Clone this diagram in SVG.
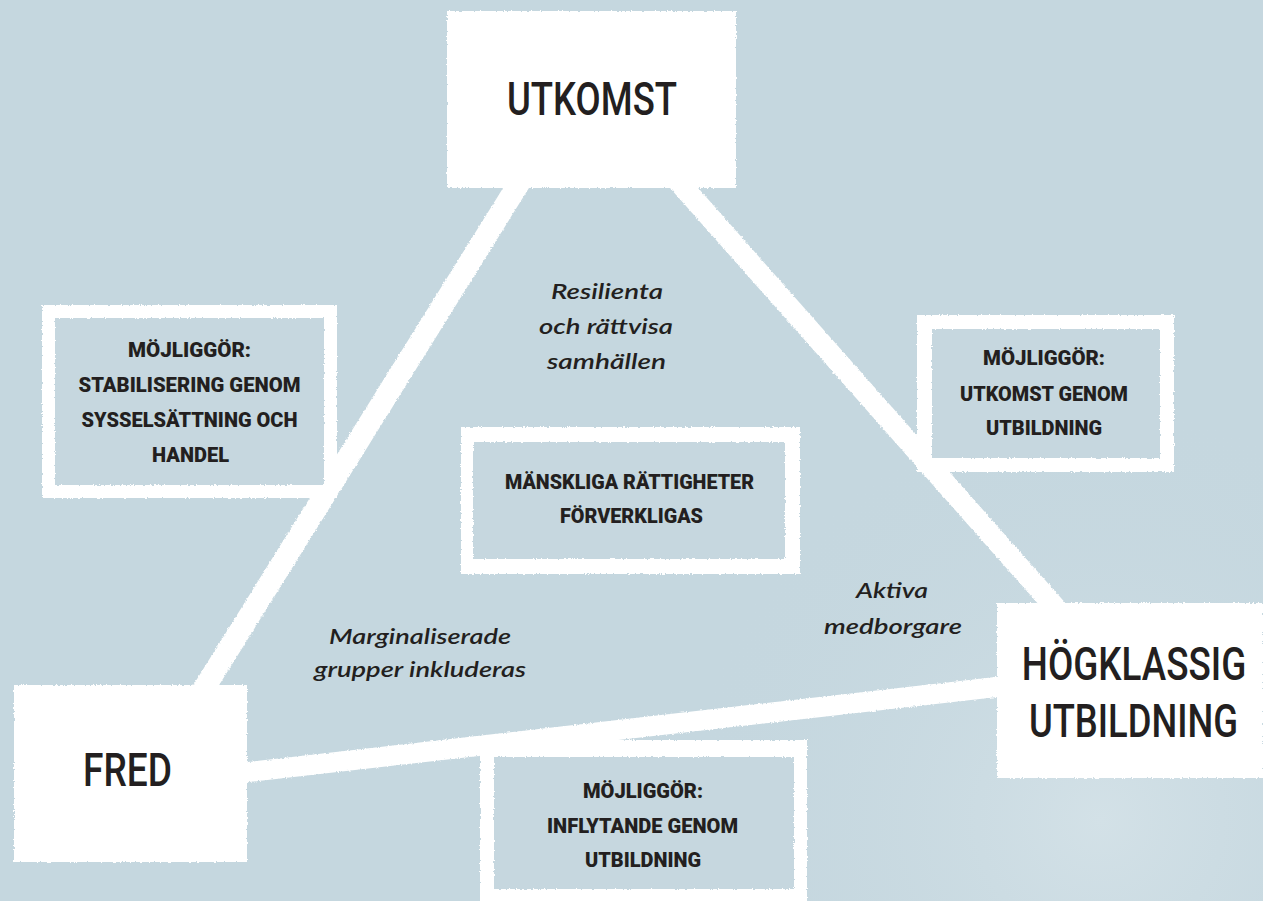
<svg xmlns="http://www.w3.org/2000/svg" width="1263" height="901" viewBox="0 0 1263 901">
  <defs>
    <radialGradient id="bgGlow" cx="1100" cy="820" r="420" gradientUnits="userSpaceOnUse">
      <stop offset="0" stop-color="#d3e1e7"/>
      <stop offset="1" stop-color="#c5d7df" stop-opacity="0"/>
    </radialGradient>
    <filter id="rough" x="-5%" y="-5%" width="110%" height="110%">
      <feTurbulence type="fractalNoise" baseFrequency="0.55" numOctaves="2" seed="3" result="n"/>
      <feDisplacementMap in="SourceGraphic" in2="n" scale="3" xChannelSelector="R" yChannelSelector="G"/>
    </filter>
    <style>
      .bg { fill: #c5d7df; }
      .white { fill: #ffffff; }
      .inner { fill: #c6d7df; }
      .conn { stroke: #ffffff; stroke-linecap: butt; fill: none; }
      .big { font-family: Roboto, "Liberation Sans", sans-serif; font-weight: 500; font-size: 46px; fill: #231f20; text-anchor: middle; }
      .lab { font-family: Roboto, "Liberation Sans", sans-serif; font-weight: 900; font-size: 21px; fill: #231f20; text-anchor: middle; }
      .it { font-family: Lato, "Open Sans", sans-serif; font-style: italic; font-weight: 600; font-size: 21px; fill: #231f20; text-anchor: middle; }
    </style>
  </defs>

  <rect class="bg" x="0" y="0" width="1263" height="901"/>
  <rect x="0" y="0" width="1263" height="901" fill="url(#bgGlow)"/>

  <g id="connectors" filter="url(#rough)">
    <line class="conn" x1="521" y1="180" x2="200" y2="695" stroke-width="22"/>
    <line class="conn" x1="677" y1="180" x2="1062" y2="615" stroke-width="21"/>
    <line class="conn" x1="240" y1="773" x2="1005" y2="686" stroke-width="20"/>
  </g>

  <g id="node-utkomst">
    <rect class="white" x="447" y="11" width="289" height="177" filter="url(#rough)"/>
    <text class="big" x="592" y="115" textLength="170" lengthAdjust="spacingAndGlyphs">UTKOMST</text>
  </g>

  <g id="node-fred">
    <rect class="white" x="14" y="685" width="233" height="177" filter="url(#rough)"/>
    <text class="big" x="127.5" y="786" textLength="89" lengthAdjust="spacingAndGlyphs">FRED</text>
  </g>

  <g id="node-hogklassig">
    <rect class="white" x="997" y="603" width="266" height="175" filter="url(#rough)"/>
    <text class="big" transform="translate(1134 680) scale(0.85 1)" x="0" y="0" textLength="264" lengthAdjust="spacingAndGlyphs">HÖGKLASSIG</text>
    <text class="big" transform="translate(1133.5 737) scale(0.85 1)" x="0" y="0" textLength="246" lengthAdjust="spacingAndGlyphs">UTBILDNING</text>
  </g>

  <g id="node-stabilisering">
    <g filter="url(#rough)">
      <rect class="white" x="42" y="305" width="295" height="193"/>
      <rect class="inner" x="55" y="318" width="269" height="167"/>
    </g>
    <text class="lab" x="189.5" y="357" textLength="123" lengthAdjust="spacingAndGlyphs">MÖJLIGGÖR:</text>
    <text class="lab" x="189.5" y="392" textLength="222" lengthAdjust="spacingAndGlyphs">STABILISERING GENOM</text>
    <text class="lab" x="189.5" y="427" textLength="216" lengthAdjust="spacingAndGlyphs">SYSSELSÄTTNING OCH</text>
    <text class="lab" x="190.5" y="462" textLength="77" lengthAdjust="spacingAndGlyphs">HANDEL</text>
  </g>

  <g id="node-rattigheter">
    <g filter="url(#rough)">
      <rect class="white" x="461" y="427" width="339" height="147"/>
      <rect class="inner" x="473" y="442" width="312" height="117"/>
    </g>
    <text class="lab" x="629.5" y="489" textLength="249" lengthAdjust="spacingAndGlyphs">MÄNSKLIGA RÄTTIGHETER</text>
    <text class="lab" x="631.5" y="523" textLength="143" lengthAdjust="spacingAndGlyphs">FÖRVERKLIGAS</text>
  </g>

  <g id="node-utkomst-genom">
    <g filter="url(#rough)">
      <rect class="white" x="917" y="315" width="257" height="157"/>
      <rect class="inner" x="932" y="329" width="228" height="129"/>
    </g>
    <text class="lab" x="1044" y="365" textLength="122" lengthAdjust="spacingAndGlyphs">MÖJLIGGÖR:</text>
    <text class="lab" x="1044" y="401" textLength="168" lengthAdjust="spacingAndGlyphs">UTKOMST GENOM</text>
    <text class="lab" x="1044" y="435" textLength="116" lengthAdjust="spacingAndGlyphs">UTBILDNING</text>
  </g>

  <g id="node-inflytande">
    <g filter="url(#rough)">
      <rect class="white" x="480" y="740" width="327" height="165"/>
      <rect class="inner" x="494" y="757" width="300" height="132"/>
    </g>
    <text class="lab" x="643" y="798" textLength="120" lengthAdjust="spacingAndGlyphs">MÖJLIGGÖR:</text>
    <text class="lab" x="642.5" y="833" textLength="191" lengthAdjust="spacingAndGlyphs">INFLYTANDE GENOM</text>
    <text class="lab" x="643" y="867" textLength="116" lengthAdjust="spacingAndGlyphs">UTBILDNING</text>
  </g>

  <g id="label-resilienta">
    <text class="it" x="607" y="299" textLength="112" lengthAdjust="spacingAndGlyphs">Resilienta</text>
    <text class="it" x="606" y="334" textLength="134" lengthAdjust="spacingAndGlyphs">och rättvisa</text>
    <text class="it" x="606.5" y="369" textLength="119" lengthAdjust="spacingAndGlyphs">samhällen</text>
  </g>

  <g id="label-marginaliserade">
    <text class="it" x="420" y="644" textLength="182" lengthAdjust="spacingAndGlyphs">Marginaliserade</text>
    <text class="it" x="420" y="677" textLength="212" lengthAdjust="spacingAndGlyphs">grupper inkluderas</text>
  </g>

  <g id="label-aktiva">
    <text class="it" x="892" y="598" textLength="72" lengthAdjust="spacingAndGlyphs">Aktiva</text>
    <text class="it" x="893" y="634" textLength="138" lengthAdjust="spacingAndGlyphs">medborgare</text>
  </g>
</svg>
